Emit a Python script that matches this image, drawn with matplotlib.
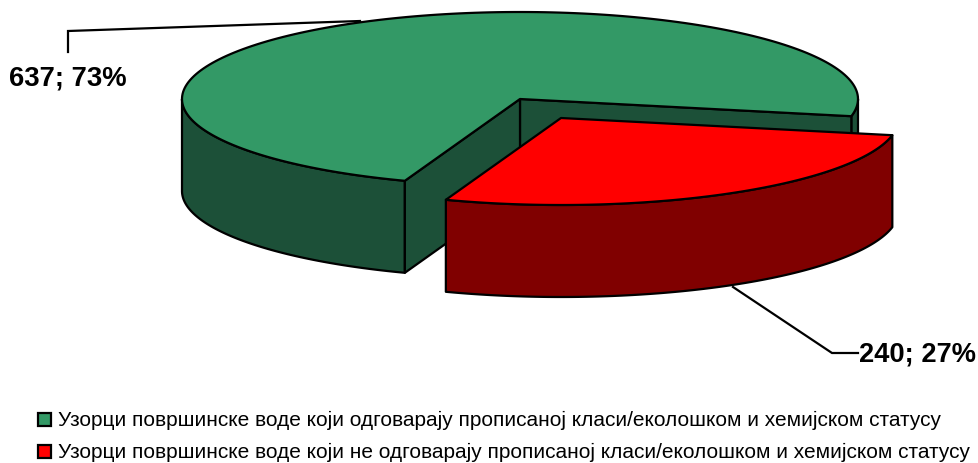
import numpy as np
import matplotlib
matplotlib.use('Agg')
import matplotlib.pyplot as plt
from matplotlib.patches import Polygon, Rectangle

plt.rcParams['font.family'] = ['Liberation Sans', 'DejaVu Sans']

labels = ['Узорци површинске воде који одговарају прописаној класи/еколошком и хемијском статусу',
          'Узорци површинске воде који не одговарају прописаној класи/еколошком и хемијском статусу']
values = [637, 240]
top_colors = ['#339966', '#ff0000']
side_colors = ['#1c5038', '#800000']

# pie geometry, in pixels of the output picture
rx = 338
ry = 87
depth = 92
start = -11.4
centers = [(520, 100), (561, 119)]
edge = 'black'
lw = 1.6

fig = plt.figure(figsize=(9.79, 4.64), dpi=100)
ax = fig.add_axes([0, 0, 1, 1])
ax.set_xlim(0, 979)
ax.set_ylim(464, 0)
ax.axis('off')


def arc(center, t1, t2, dy=0):
    t = np.radians(np.linspace(t1, t2, 200))
    return np.column_stack((center[0] + rx * np.cos(t), center[1] - ry * np.sin(t) + dy))


def wall(center, t1, t2, color):
    pts = np.vstack((arc(center, t1, t2), arc(center, t1, t2, depth)[::-1]))
    ax.add_patch(Polygon(pts, closed=True, fc=color, ec=edge, lw=lw, joinstyle='round'))


def cut_face(center, t, color):
    p = arc(center, t, t, 0)[0]
    pts = [center, p, (p[0], p[1] + depth), (center[0], center[1] + depth)]
    ax.add_patch(Polygon(pts, closed=True, fc=color, ec=edge, lw=lw, joinstyle='round'))


def top(center, t1, t2, color):
    pts = np.vstack(([center], arc(center, t1, t2)))
    ax.add_patch(Polygon(pts, closed=True, fc=color, ec=edge, lw=lw, joinstyle='round'))


sweeps = np.array(values) / sum(values) * 360
g1, g2 = start, start + sweeps[0]
r1, r2 = g2, g2 + sweeps[1]

# leader lines go under the pie
ax.plot([68, 68, 360], [53, 32, 22], color=edge, lw=lw, solid_joinstyle='miter', zorder=0)
ax.plot([733, 832, 858], [288, 354, 354], color=edge, lw=lw, solid_joinstyle='miter', zorder=0)

# green slice
wall(centers[0], start, 0, side_colors[0])
wall(centers[0], 180, g2, side_colors[0])
cut_face(centers[0], start, side_colors[0])
cut_face(centers[0], g2, side_colors[0])
top(centers[0], g1, g2, top_colors[0])

# red slice
wall(centers[1], r1, r2, side_colors[1])
top(centers[1], r1, r2, top_colors[1])

# data labels
pct = [v / sum(values) for v in values]
ax.text(9, 78, f'{values[0]}; {pct[0]:.0%}', fontsize=19.8, fontweight='bold', va='center', ha='left')
ax.text(859, 355, f'{values[1]}; {pct[1]:.0%}', fontsize=19.6, fontweight='bold', va='center', ha='left')

# legend
for i, (lab, c) in enumerate(zip(labels, top_colors)):
    y = 420 + i * 32.5
    ax.add_patch(Rectangle((38, y - 6.5), 13, 13, fc=c, ec=edge, lw=lw))
    ax.text(58, y, lab, fontsize=15.05, va='center', ha='left', color='black')

fig.savefig('out.png', dpi=100)
